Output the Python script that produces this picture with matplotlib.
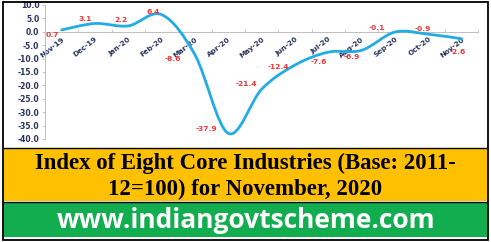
import numpy as np
import matplotlib
matplotlib.use("Agg")
import matplotlib.pyplot as plt
from matplotlib.path import Path
from matplotlib.patches import PathPatch, Rectangle

plt.rcParams["axes.unicode_minus"] = False

months = ["Nov-19", "Dec-19", "Jan-20", "Feb-20", "Mar-20", "Apr-20", "May-20",
          "Jun-20", "Jul-20", "Aug-20", "Sep-20", "Oct-20", "Nov-20"]
growth = [0.7, 3.1, 2.2, 6.4, -8.6, -37.9, -21.4, -12.4, -7.6, -6.9, -0.1, -0.9, -2.6]
y_ticks = [10, 5, 0, -5, -10, -15, -20, -25, -30, -35, -40]

title_lines = ["Index of Eight Core Industries (Base: 2011-", "12=100) for November, 2020"]
site = "www.indiangovtscheme.com"

# label offsets (pixels, from each point) - placed by hand like the original
label_offsets = [(-9, -5), (-10, 4), (-7, 6), (-8, 3), (-22, -4), (-22, 4), (-15, 5),
                 (-17, -2), (-9, -10), (-10, -7), (-18, 4), (-5, 5), (-4, -13)]

W, H = 491, 242
navy = "#27325c"
red = "#f0383a"
blue = "#22ace6"
grey = "#bfbfbf"


def smooth_path(xs, ys):
    # excel-like smoothed line: bezier segments, catmull-rom control points
    pts = np.column_stack([xs, ys]).astype(float)
    p = np.vstack([pts[0], pts, pts[-1]])
    verts = [pts[0]]
    codes = [Path.MOVETO]
    for i in range(len(pts) - 1):
        p0, p1, p2, p3 = p[i], p[i + 1], p[i + 2], p[i + 3]
        verts += [p1 + (p2 - p0) / 6, p2 - (p3 - p1) / 6, p2]
        codes += [Path.CURVE4] * 3
    return Path(verts, codes)


fig = plt.figure(figsize=(W / 100, H / 100), dpi=100)
fig.patch.set_facecolor("white")

ax = fig.add_axes([45 / W, 1 - 139 / H, 433.3 / W, 134 / H])
ax.set_xlim(-0.5, 12.5)
ax.set_ylim(-40, 10)

x = np.arange(len(months))
ax.add_patch(PathPatch(smooth_path(x, growth), fill=False, edgecolor=blue,
                       lw=2.0, capstyle="round", joinstyle="round", zorder=3))

for i, (v, (dx, dy)) in enumerate(zip(growth, label_offsets)):
    ax.annotate(f"{v:.1f}", (x[i], v), xytext=(dx, dy), textcoords="offset pixels",
                ha="center", va="center", color=red, fontsize=5.4,
                fontweight="bold", zorder=4)

for s in ["top", "right"]:
    ax.spines[s].set_visible(False)
ax.spines["bottom"].set_position(("data", 0))
ax.spines["bottom"].set_color(grey)
ax.spines["left"].set_color(grey)
ax.spines["bottom"].set_linewidth(0.7)
ax.spines["left"].set_linewidth(0.7)

ax.set_yticks(y_ticks)
ax.set_yticklabels([f"{t:.1f}" for t in y_ticks])
ax.tick_params(axis="y", length=2, width=0.6, color=grey, pad=2,
               labelsize=5.5, labelcolor=navy)
for lab in ax.get_yticklabels():
    lab.set_fontweight("bold")

ax.set_xticks(x)
ax.set_xticklabels(months, rotation=38, ha="right", rotation_mode="anchor")
ax.set_xticks(np.arange(-0.5, 13, 1), minor=True)
ax.tick_params(axis="x", which="major", length=0, pad=3, labelsize=5.2, labelcolor=navy)
ax.tick_params(axis="x", which="minor", length=2, width=0.6, direction="in", color=grey)
for lab in ax.get_xticklabels():
    lab.set_fontweight("bold")

# bottom bands
fig.patches.append(Rectangle((3 / W, 1 - 201 / H), 484 / W, 53 / H, transform=fig.transFigure,
                             facecolor="#ffc000", edgecolor="none", zorder=0))
fig.patches.append(Rectangle((3 / W, 1 - 237 / H), 484 / W, 35 / H, transform=fig.transFigure,
                             facecolor="#12ad4f", edgecolor="none", zorder=0))
for yp in [148, 201.5]:
    fig.add_artist(plt.Line2D([3 / W, 487 / W], [1 - yp / H] * 2, color="black", lw=1.0))
fig.patches.append(Rectangle((2.5 / W, 1 - 239.5 / H), 485 / W, 237.5 / H, transform=fig.transFigure,
                             facecolor="none", edgecolor="black", lw=1.3, zorder=5))

fig.text(245 / W, 1 - 163 / H, title_lines[0], ha="center", va="center",
         family="Liberation Serif", fontweight="bold", fontsize=16.4, color="black")
fig.text(245 / W, 1 - 189 / H, title_lines[1], ha="center", va="center",
         family="Liberation Serif", fontweight="bold", fontsize=16.4, color="black")
fig.text(246 / W, 1 - 220 / H, site, ha="center", va="center",
         family="Open Sans", fontweight="bold", fontsize=19, color="white")

fig.savefig("out.png", dpi=100)
